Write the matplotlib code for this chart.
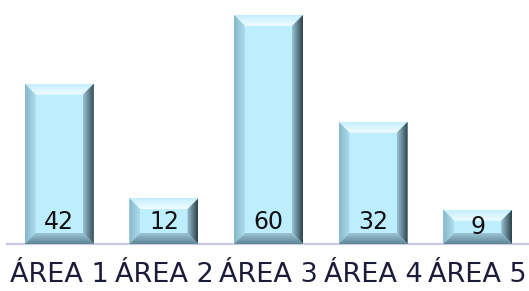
import numpy as np
import matplotlib.pyplot as plt
from matplotlib.patches import Polygon
from matplotlib.colors import LinearSegmentedColormap

# data
areas = ['ÁREA 1', 'ÁREA 2', 'ÁREA 3', 'ÁREA 4', 'ÁREA 5']
valores = [42, 12, 60, 32, 9]

fig = plt.figure(figsize=(5.29, 2.91), dpi=100)
ax = fig.add_axes([7 / 529, 47 / 291, 523 / 529, 244 / 291])

x = np.arange(len(areas))
bars = ax.bar(x, valores, width=0.66, color='#BDEEFF', edgecolor='none', zorder=2)

ax.set_xlim(-0.5, len(areas) - 0.5)
ax.set_ylim(0, 63.9)
for s in ['top', 'right', 'left']:
    ax.spines[s].set_visible(False)
ax.spines['bottom'].set_color('#C9C9E8')
ax.spines['bottom'].set_linewidth(1.6)
ax.set_yticks([])
ax.set_xticks(x)
ax.set_xticklabels(areas, fontsize=19.5, color='#1B1B3A', family='DejaVu Sans')
ax.tick_params(axis='x', length=0, pad=13)

# valores dentro da barra
for xi, v in zip(x, valores):
    ax.text(xi, min(v / 2, 5.8), str(v), ha='center', va='center',
            fontsize=17, color='#111111', zorder=5)

# bisel nas barras
fig.canvas.draw()
inv = ax.transData.inverted()
b = 11  # largura do bisel em px


def gradiente(poly_pts, c_ext, c_int, direcao):
    poly = Polygon(inv.transform(poly_pts), closed=True, transform=ax.transData,
                   facecolor='none', edgecolor='none')
    ax.add_patch(poly)
    cmap = LinearSegmentedColormap.from_list('g', [c_ext, c_int])
    g = np.linspace(0, 1, 64)
    if direcao == 'h':
        img = g[None, :]
    elif direcao == 'hr':
        img = g[None, ::-1]
    elif direcao == 'v':
        img = g[:, None]
    else:
        img = g[::-1, None]
    (x0, y0), (x1, y1) = inv.transform([poly_pts.min(axis=0), poly_pts.max(axis=0)])
    im = ax.imshow(img, cmap=cmap, extent=[x0, x1, y0, y1], origin='lower',
                   aspect='auto', interpolation='bilinear', zorder=3)
    im.set_clip_path(poly)


for bar in bars:
    bb = bar.get_window_extent()
    x0, y0, x1, y1 = bb.x0, bb.y0, bb.x1, bb.y1
    # topo
    gradiente(np.array([[x0, y1], [x1, y1], [x1 - b, y1 - b], [x0 + b, y1 - b]]),
              '#C4EFFF', '#F2FCFF', 'vr')
    # esquerda
    gradiente(np.array([[x0, y0], [x0, y1], [x0 + b, y1 - b], [x0 + b, y0 + b]]),
              '#86B8CA', '#AEDCEC', 'h')
    # direita
    gradiente(np.array([[x1, y0], [x1, y1], [x1 - b, y1 - b], [x1 - b, y0 + b]]),
              '#2C424C', '#9BC3D3', 'hr')
    # base
    gradiente(np.array([[x0, y0], [x1, y0], [x1 - b, y0 + b], [x0 + b, y0 + b]]),
              '#5F8595', '#9CC4D4', 'v')

ax.set_xlim(-0.5, len(areas) - 0.5)
ax.set_ylim(0, 63.9)

plt.savefig('out.png', dpi=100)
